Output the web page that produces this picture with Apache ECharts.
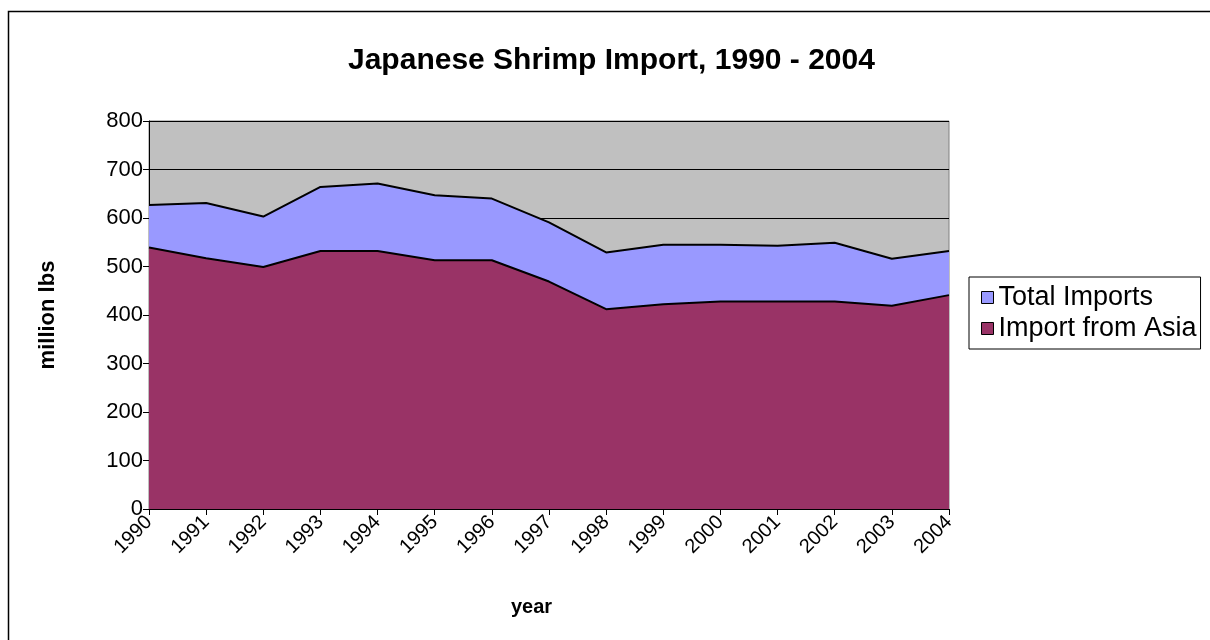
<!DOCTYPE html>
<html>
<head>
<meta charset="utf-8">
<script src="https://cdn.jsdelivr.net/npm/echarts@6/dist/echarts.min.js"></script>
<style>
  html, body { margin: 0; padding: 0; background: #fff; }
  #main { width: 1210px; height: 640px; }
</style>
</head>
<body>
<div id="main"></div>
<script>
// data
var years = ['1990', '1991', '1992', '1993', '1994', '1995', '1996', '1997',
             '1998', '1999', '2000', '2001', '2002', '2003', '2004'];
var totalImports = [627, 631, 603, 664, 671, 647, 640, 591, 529, 545, 545, 543, 549, 516, 532];
var asiaImports  = [539, 517, 499, 532, 532, 513, 513, 469, 412, 422, 428, 428, 428, 419, 441];
var yTicks = [0, 100, 200, 300, 400, 500, 600, 700, 800];

var font = 'Arial, "Liberation Sans", sans-serif';

var chart = echarts.init(document.getElementById('main'));

chart.setOption({
    animation: false,
    backgroundColor: '#ffffff',
    title: {
        text: 'Japanese Shrimp Import, 1990 - 2004',
        left: 343,
        top: 41,
        textStyle: { fontFamily: font, fontSize: 30, fontWeight: 'bold', color: '#000' }
    },
    legend: {
        orient: 'vertical',
        left: 969,
        top: 277,
        padding: [7, 4, 7, 12],
        itemGap: 4,
        itemWidth: 12,
        itemHeight: 12,
        icon: 'rect',
        backgroundColor: '#fff',
        borderColor: '#000',
        borderWidth: 1,
        borderRadius: 0,
        itemStyle: { borderColor: '#000', borderWidth: 1 },
        textStyle: { fontFamily: font, fontSize: 27, color: '#000' },
        data: ['Total Imports', 'Import from Asia']
    },
    grid: {
        left: 149,
        right: 261,
        top: 121,
        bottom: 131,
        show: true,
        backgroundColor: '#C0C0C0',
        borderColor: '#808080',
        borderWidth: 1
    },
    xAxis: {
        type: 'category',
        data: years,
        boundaryGap: false,
        axisLine: { lineStyle: { color: '#000', width: 1 } },
        axisTick: { show: true, interval: 0, length: 6, lineStyle: { color: '#000' } },
        axisLabel: {
            interval: 0, rotate: 45, margin: 10,
            fontFamily: font, fontSize: 20, color: '#000'
        },
        splitLine: { show: false }
    },
    yAxis: {
        type: 'value',
        min: yTicks[0],
        max: yTicks[yTicks.length - 1],
        interval: 100,
        name: 'million lbs',
        nameLocation: 'middle',
        nameRotate: 90,
        nameGap: 90,
        nameTextStyle: { fontFamily: font, fontSize: 22, fontWeight: 'bold', color: '#000' },
        axisLine: { show: true, lineStyle: { color: '#000', width: 1 } },
        axisTick: { show: true, length: 6, lineStyle: { color: '#000' } },
        axisLabel: { margin: 6, fontFamily: font, fontSize: 22, color: '#000' },
        splitLine: { show: true, lineStyle: { color: '#000', width: 1 } }
    },
    graphic: [
        {
            type: 'rect',
            shape: { x: 8.5, y: 11.5, width: 1400, height: 800 },
            style: { fill: 'none', stroke: '#000', lineWidth: 1.5 },
            silent: true
        },
        {
            type: 'text',
            left: 511,
            top: 597,
            style: { text: 'year', font: 'bold 20px ' + font, fill: '#000' }
        }
    ],
    series: [
        {
            name: 'Total Imports',
            type: 'line',
            data: totalImports,
            symbol: 'none',
            itemStyle: { color: '#9999FF' },
            lineStyle: { color: '#000', width: 2 },
            areaStyle: { color: '#9999FF', opacity: 1 },
            z: 2
        },
        {
            name: 'Import from Asia',
            type: 'line',
            data: asiaImports,
            symbol: 'none',
            itemStyle: { color: '#993366' },
            lineStyle: { color: '#000', width: 2 },
            areaStyle: { color: '#993366', opacity: 1 },
            z: 3
        }
    ]
});
</script>
</body>
</html>
